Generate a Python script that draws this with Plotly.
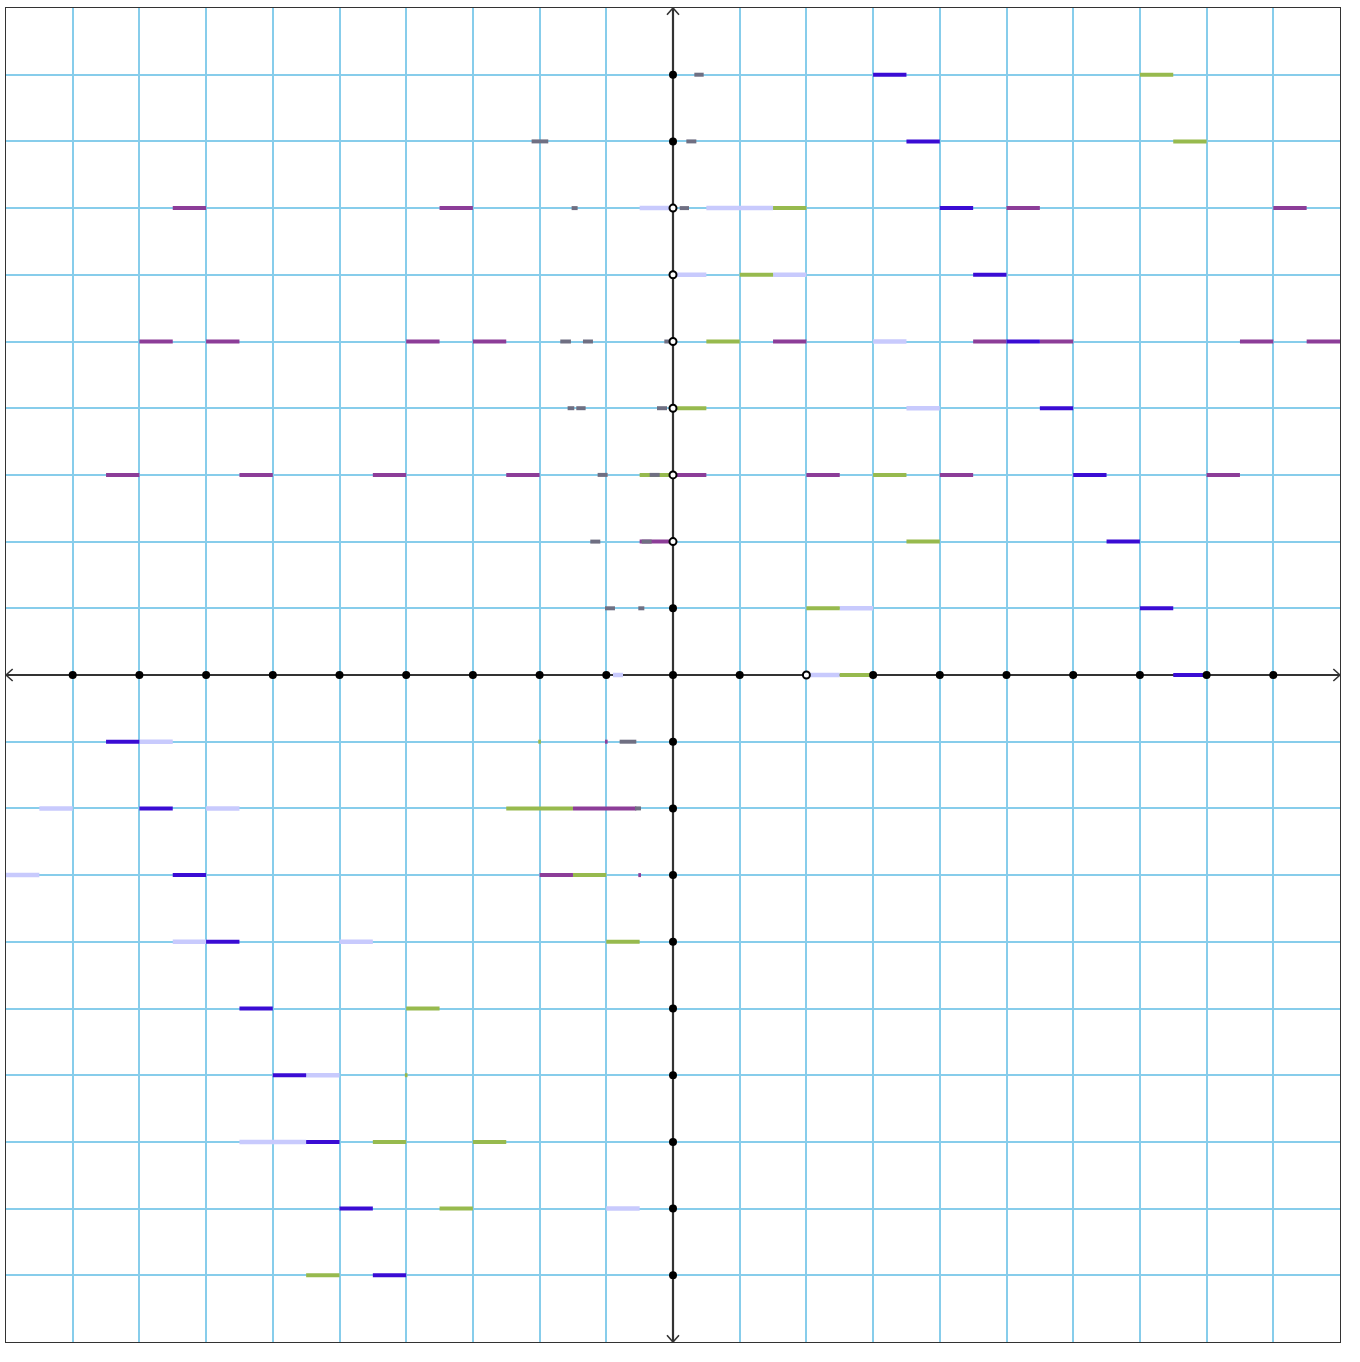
import plotly.graph_objects as go

# ---------------- data ----------------
X_MIN, X_MAX = -10, 10
Y_MIN, Y_MAX = -10, 10

# horizontal segments: (y, x_start, x_end)
lavender_segments = [
    (7, -0.5, 0.0), (7, 0.5, 1.5), (6, 0.0, 0.5), (6, 1.5, 2.0), (5, 3.0, 3.5),
    (4, 3.5, 4.0), (1, 2.5, 3.0), (0, 2.0, 2.5), (0, -0.9, -0.75),
    (-1, -8.0, -7.5), (-2, -9.5, -9.0), (-2, -7.0, -6.5), (-3, -10.0, -9.5),
    (-4, -7.5, -7.0), (-4, -5.0, -4.5), (-6, -5.5, -5.0), (-7, -6.5, -5.5),
    (-8, -1.0, -0.5),
]
green_segments = [
    (9, 7.0, 7.5), (8, 7.5, 8.0), (7, 1.5, 2.0), (6, 1.0, 1.5), (5, 0.5, 1.0),
    (4, 0.0, 0.5), (3, -0.5, 0.0), (3, 3.0, 3.5), (2, 3.5, 4.0), (1, 2.0, 2.5),
    (0, 2.5, 3.0), (-1, -2.02, -1.98), (-2, -2.5, -1.5), (-3, -1.5, -1.0),
    (-4, -1.0, -0.5), (-5, -4.0, -3.5), (-6, -4.02, -3.98), (-7, -4.5, -4.0),
    (-7, -3.0, -2.5), (-8, -3.5, -3.0), (-9, -5.5, -5.0),
]
purple_segments = [
    (7, -7.5, -7.0), (7, -3.5, -3.0), (7, 5.0, 5.5), (7, 9.0, 9.5),
    (5, -8.0, -7.5), (5, -7.0, -6.5), (5, -4.0, -3.5), (5, -3.0, -2.5),
    (5, 1.5, 2.0), (5, 4.5, 5.0), (5, 5.5, 6.0), (5, 8.5, 9.0), (5, 9.5, 10.0),
    (3, -8.5, -8.0), (3, -6.5, -6.0), (3, -4.5, -4.0), (3, -2.5, -2.0),
    (3, 0.0, 0.5), (3, 2.0, 2.5), (3, 4.0, 4.5), (3, 8.0, 8.5),
    (2, -0.5, 0.0), (-1, -1.02, -0.98), (-2, -1.5, -0.55),
    (-3, -2.0, -1.5), (-3, -0.52, -0.48),
]
blue_segments = [
    (9, 3.0, 3.5), (8, 3.5, 4.0), (7, 4.0, 4.5), (6, 4.5, 5.0), (5, 5.0, 5.5),
    (4, 5.5, 6.0), (3, 6.0, 6.5), (2, 6.5, 7.0), (1, 7.0, 7.5), (0, 7.5, 8.0),
    (-1, -8.5, -8.0), (-2, -8.0, -7.5), (-3, -7.5, -7.0), (-4, -7.0, -6.5),
    (-5, -6.5, -6.0), (-6, -6.0, -5.5), (-7, -5.5, -5.0), (-8, -5.0, -4.5),
    (-9, -4.5, -4.0),
]
gray_segments = [
    (9, 0.32, 0.46), (8, -2.12, -1.87), (8, 0.2, 0.35), (7, -1.52, -1.43),
    (7, 0.1, 0.24), (5, -1.69, -1.53), (5, -1.35, -1.2), (5, -0.13, 0.0),
    (4, -1.58, -1.48), (4, -1.45, -1.31), (4, -0.24, -0.09),
    (3, -1.13, -0.98), (3, -0.35, -0.2), (2, -1.24, -1.09), (2, -0.47, -0.32),
    (1, -1.02, -0.87), (1, -0.52, -0.43), (-1, -0.8, -0.55), (-2, -0.57, -0.48),
]

# points on the axes
x_axis_filled = [-9, -8, -7, -6, -5, -4, -3, -2, -1, 0, 1, 3, 4, 5, 6, 7, 8, 9]
x_axis_hollow = [2]
y_axis_filled = [9, 8, 1, -1, -2, -3, -4, -5, -6, -7, -8, -9]
y_axis_hollow = [7, 6, 5, 4, 3, 2]

# ---------------- styles ----------------
SERIES = [
    (lavender_segments, "#C8CAFD", 4.5),
    (green_segments, "#97BA4E", 4),
    (purple_segments, "#8C3D98", 4),
    (blue_segments, "#3A0CD4", 4),
    (gray_segments, "#6F6F82", 4),
]
GRID = "#87CDEB"
AXIS = "#333333"


def seg_xy(segs):
    xs, ys = [], []
    for y, x0, x1 in segs:
        xs += [x0, x1, None]
        ys += [y, y, None]
    return xs, ys


fig = go.Figure()

# axes with arrows
ax_w = 2.2
fig.add_trace(go.Scatter(x=[X_MIN, X_MAX], y=[0, 0], mode="lines",
                         line=dict(color=AXIS, width=ax_w), hoverinfo="skip"))
fig.add_trace(go.Scatter(x=[0, 0], y=[Y_MIN, Y_MAX], mode="lines",
                         line=dict(color=AXIS, width=ax_w), hoverinfo="skip"))
a, b = 0.1, 0.09
arrows_x = [X_MAX - a, X_MAX, X_MAX - a, None, X_MIN + a, X_MIN, X_MIN + a, None,
            -b, 0, b, None, -b, 0, b]
arrows_y = [b, 0, -b, None, b, 0, -b, None,
            Y_MAX - a, Y_MAX, Y_MAX - a, None, Y_MIN + a, Y_MIN, Y_MIN + a]
fig.add_trace(go.Scatter(x=arrows_x, y=arrows_y, mode="lines",
                         line=dict(color=AXIS, width=1.6), hoverinfo="skip"))

for segs, color, w in SERIES:
    xs, ys = seg_xy(segs)
    fig.add_trace(go.Scatter(x=xs, y=ys, mode="lines",
                             line=dict(color=color, width=w), hoverinfo="skip"))

# axis points
fx = x_axis_filled + [0] * len(y_axis_filled)
fy = [0] * len(x_axis_filled) + y_axis_filled
fig.add_trace(go.Scatter(x=fx, y=fy, mode="markers",
                         marker=dict(color="black", size=8, line=dict(width=0)),
                         hoverinfo="skip"))
hx = x_axis_hollow + [0] * len(y_axis_hollow)
hy = [0] * len(x_axis_hollow) + y_axis_hollow
fig.add_trace(go.Scatter(x=hx, y=hy, mode="markers",
                         marker=dict(color="white", size=7,
                                     line=dict(color="black", width=2)),
                         hoverinfo="skip"))

axis_common = dict(showgrid=True, gridcolor=GRID, gridwidth=1.5, dtick=1, tick0=0,
                   showticklabels=False, ticks="", zeroline=False,
                   showline=True, linecolor=AXIS, linewidth=1, mirror=True,
                   fixedrange=True)
fig.update_layout(
    width=1360, height=1362,
    margin=dict(l=6, r=20, t=8, b=20),
    paper_bgcolor="white", plot_bgcolor="white",
    showlegend=False,
    xaxis=dict(range=[X_MIN, X_MAX], **axis_common),
    yaxis=dict(range=[Y_MIN, Y_MAX], **axis_common),
)

fig.write_html("out.html", config={"displayModeBar": False},
               post_script="document.body.style.margin='0';")
